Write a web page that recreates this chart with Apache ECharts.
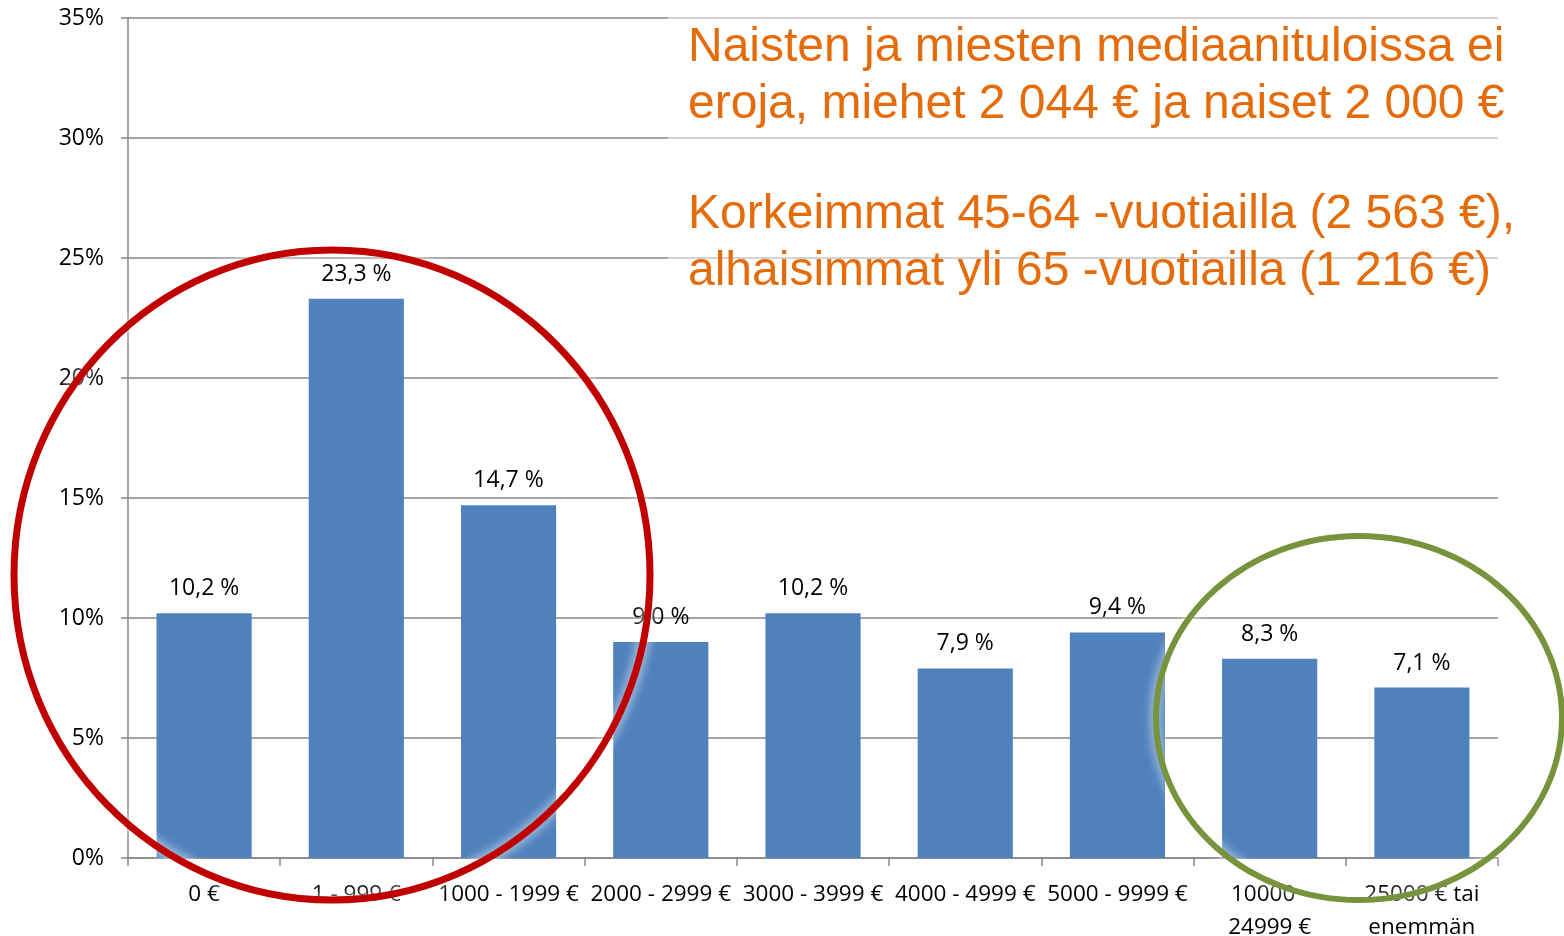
<!DOCTYPE html>
<html><head><meta charset="utf-8">
<script src="https://cdn.jsdelivr.net/npm/echarts@6/dist/echarts.min.js"></script>
<style>html,body{margin:0;padding:0;background:#fff}#c{width:1564px;height:936px}</style>
</head><body><div id="c"></div>
<script>
const categories = ["0 €", "1 - 999 €", "1000 - 1999 €", "2000 - 2999 €", "3000 - 3999 €", "4000 - 4999 €", "5000 - 9999 €", "10000 -\n24999 €", "25000 € tai\nenemmän"];
const values = [10.2, 23.3, 14.7, 9.0, 10.2, 7.9, 9.4, 8.3, 7.1];
const yTicks = [0, 5, 10, 15, 20, 25, 30, 35];
const noteLines1 = ["Naisten ja miesten mediaanituloissa ei", "eroja, miehet 2 044 € ja naiset 2 000 €"];
const noteLines2 = ["Korkeimmat 45-64 -vuotiailla (2 563 €),", "alhaisimmat yli 65 -vuotiailla (1 216 €)"];

const chart = echarts.init(document.getElementById('c'));
const labelFont = 'Open Sans';
chart.setOption({
  animation: false,
  grid: {left: 128, right: 66, top: 18, bottom: 78, outerBoundsMode: 'none', containLabel: false},
  xAxis: {
    type: 'category', data: categories,
    axisLine: {lineStyle: {color: '#868686', width: 1.5}},
    axisTick: {show: true, alignWithLabel: false, length: 8, lineStyle: {color: '#868686', width: 1.5}},
    axisLabel: {color: '#000', fontSize: 22.5, fontFamily: labelFont, margin: 20, lineHeight: 33, interval: 0, hideOverlap: false}
  },
  yAxis: {
    type: 'value', min: 0, max: 35, interval: 5,
    axisLine: {show: true, lineStyle: {color: '#868686', width: 1.5}},
    axisTick: {show: true, length: 7, lineStyle: {color: '#868686', width: 1.5}},
    splitLine: {lineStyle: {color: '#868686', width: 1.5}},
    axisLabel: {color: '#000', fontSize: 23, fontFamily: labelFont, margin: 24,
      formatter: v => yTicks.includes(v) ? v + '%' : ''}
  },
  series: [{
    type: 'bar', data: values, barWidth: '62.5%',
    itemStyle: {color: '#4F81BD'},
    label: {show: true, position: 'top', distance: 13, color: '#000', fontSize: 23, fontFamily: labelFont,
      formatter: p => p.value.toFixed(1).replace('.', ',') + ' %'}
  }],
  graphic: [
    {type: 'rect', z: 50, shape: {x: 668, y: 0, width: 896, height: 300}, style: {fill: 'rgba(255,255,255,0.5)'}, silent: true},
    {type: 'text', z: 60, left: 688, top: 19, style: {text: noteLines1.join('\n'), fill: '#E46C0A', font: '48px "Liberation Sans", Arial, sans-serif', lineHeight: 57}},
    {type: 'text', z: 60, left: 688, top: 186, style: {text: noteLines2.join('\n'), fill: '#E46C0A', font: '48px "Liberation Sans", Arial, sans-serif', lineHeight: 57}},
    {type: 'ellipse', z: 100, shape: {cx: 332, cy: 575, rx: 318, ry: 325}, style: {fill: 'none', stroke: '#C00000', lineWidth: 7, shadowColor: 'rgba(255,255,255,0.9)', shadowBlur: 12}, silent: true},
    {type: 'ellipse', z: 100, shape: {cx: 1359, cy: 718, rx: 203, ry: 182}, style: {fill: 'none', stroke: '#77933C', lineWidth: 6, shadowColor: 'rgba(255,255,255,0.9)', shadowBlur: 12}, silent: true}
  ]
});
</script></body></html>
